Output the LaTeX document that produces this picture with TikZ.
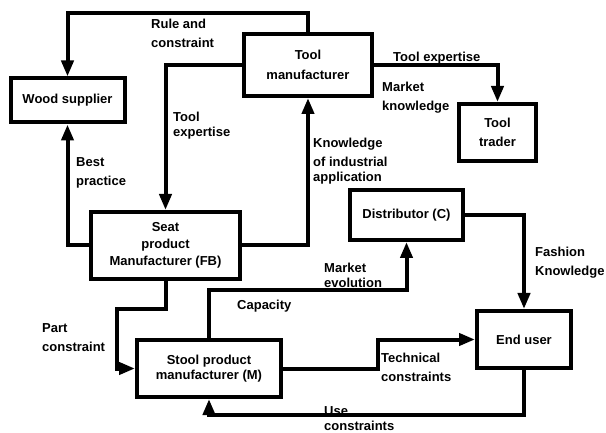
\documentclass[tikz,border=0pt]{standalone}
\usepackage{fontspec}
\setmainfont{Liberation Sans}
\usetikzlibrary{arrows.meta}
\begin{document}
\begin{tikzpicture}[x=1pt,y=-1pt,
  box/.style={draw, line width=4pt, rectangle, inner sep=2pt, align=center, font=\fontsize{13}{17}\selectfont\bfseries},
  conn/.style={line width=4pt, -{Triangle[length=16pt,width=12pt]}},
  lbl/.style={inner sep=0pt, align=left, anchor=west, font=\fontsize{13}{17}\selectfont\bfseries}]
\useasboundingbox (0,0) rectangle (606,433);
% boxes
\node[box, minimum width=114pt, minimum height=44pt] (wood) at (67.5,100.5) {Wood supplier};
\node[box, minimum width=128pt, minimum height=62pt, font=\fontsize{13}{20}\selectfont\bfseries] (tm) at (308,65) {Tool\\manufacturer};
\node[box, minimum width=77pt, minimum height=57pt, font=\fontsize{13}{19}\selectfont\bfseries] (trader) at (497.5,132.5) {Tool\\trader};
\node[box, minimum width=149pt, minimum height=67pt] (seat) at (165.5,245.5) {Seat\\product\\Manufacturer (FB)};
\node[box, minimum width=113pt, minimum height=50pt] (dist) at (406.5,215) {Distributor (C)};
\node[box, minimum width=144pt, minimum height=57pt, font=\fontsize{13}{15}\selectfont\bfseries] (stool) at (209,368.5) {Stool product\\manufacturer (M)};
\node[box, minimum width=94pt, minimum height=57pt] (end) at (524,339.5) {End user};
% helper coordinates
\coordinate (top) at (0,13);
\coordinate (p1) at (117,309);
\coordinate (c1) at (0,290);
\coordinate (t1) at (378,0);
\coordinate (u1) at (0,415);
% connectors
\draw[conn] (tm.north) -- (tm.north |- top) -| (wood.north);
\draw[conn] (tm.west) -| (seat.north);
\draw[conn] (seat.west) -| (wood.south);
\draw[conn] (seat.east) -| (tm.south);
\draw[conn] (tm.east) -| (trader.north);
\draw[conn] (seat.south) |- (p1) |- (stool.west);
\draw[conn] (stool.north) -- (stool.north |- c1) -| (dist.south);
\draw[conn] (dist.east) -| (end.north);
\draw[conn] (stool.east) -- (stool.east -| t1) |- (end.west);
\draw[conn] (end.south) -- (end.south |- u1) -| (stool.south);
% labels
\node[lbl] (l1) at (151,33.5) {Rule and\\[2pt]constraint};
\node[lbl] (l2) at (173,125.5) {Tool\\[-2pt]expertise};
\node[lbl] (l3) at (76,172.5) {Best\\[2pt]practice};
\node[lbl] (l4) at (313,161) {Knowledge\\[2pt]of industrial\\[-2pt]application};
\node[lbl] (l5) at (393,58) {Tool expertise};
\node[lbl] (l6) at (382,97.5) {Market\\[2pt]knowledge};
\node[lbl] (l7) at (42,337.5) {Part\\[2pt]constraint};
\node[lbl] (l8) at (237,306) {Capacity};
\node[lbl] (l9) at (324,275.5) {Market\\[-2pt]evolution};
\node[lbl] (l10) at (535,262.5) {Fashion\\[2pt]Knowledge};
\node[lbl] (l11) at (381,367.5) {Technical\\[2pt]constraints};
\node[lbl] (l12) at (324,418.5) {Use\\[-2pt]constraints};
\end{tikzpicture}
\end{document}
